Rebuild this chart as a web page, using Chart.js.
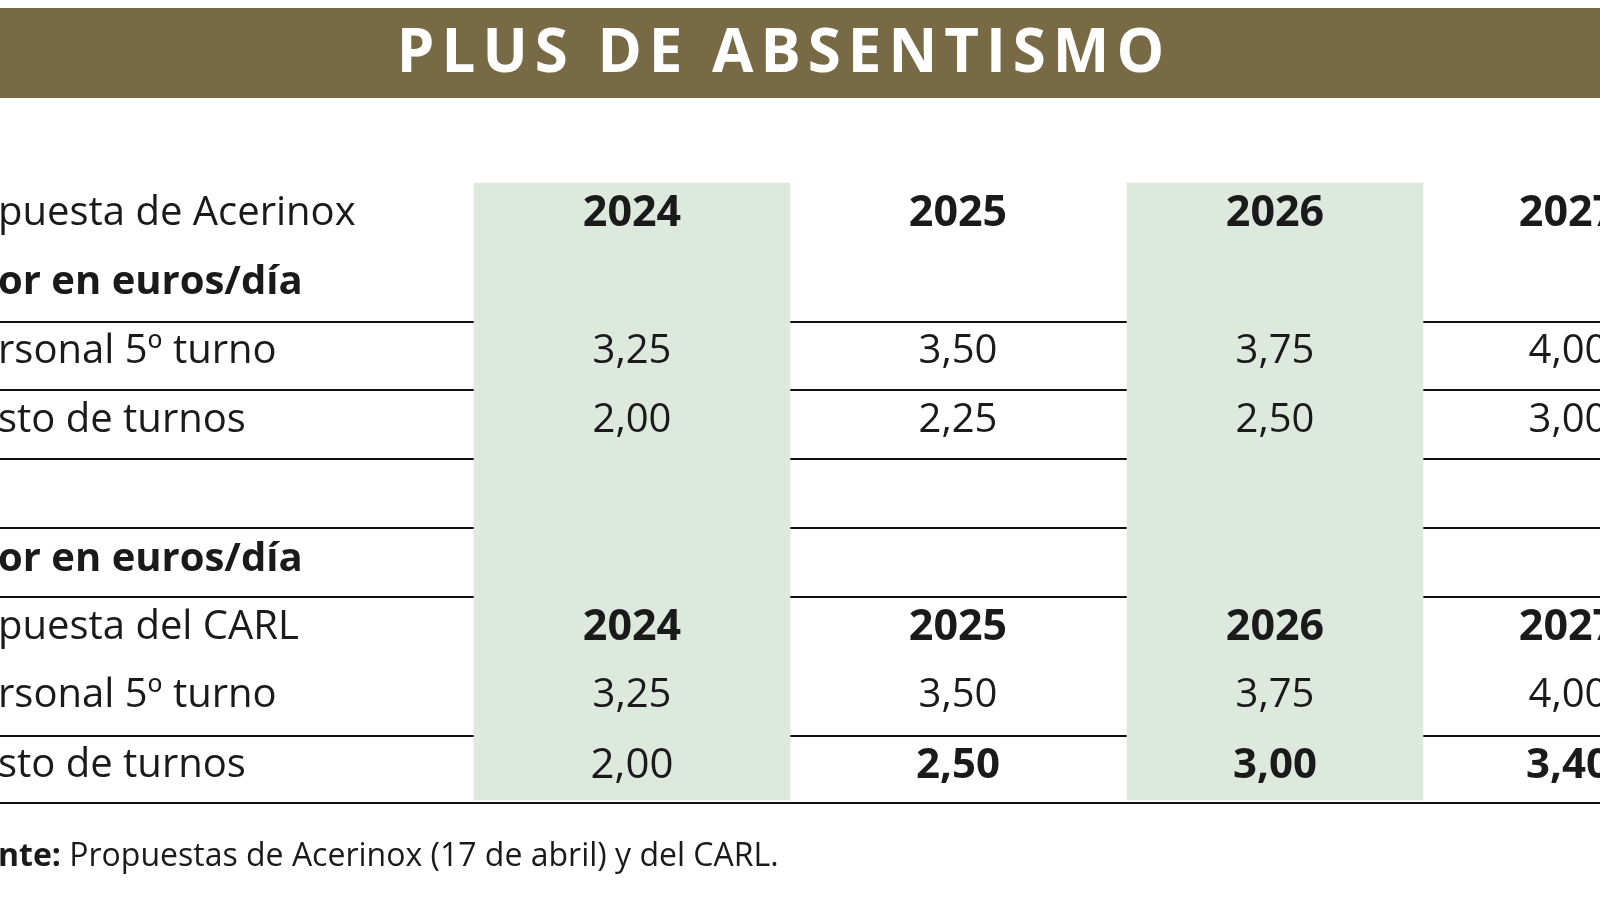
<!DOCTYPE html>
<html><head><meta charset="utf-8">
<script src="https://cdn.jsdelivr.net/npm/chart.js@4"></script>
<style>html,body{margin:0;background:#fff}#wrap{width:1600px;height:900px}</style>
</head><body><div id="wrap"><canvas id="c"></canvas></div>
<script>
// ===== DATA =====
const titulo = "PLUS DE ABSENTISMO";
const anos = ["2024", "2025", "2026", "2027"];
const acerinoxPersonal = ["3,25", "3,50", "3,75", "4,00"];
const acerinoxResto = ["2,00", "2,25", "2,50", "3,00"];
const carlPersonal = ["3,25", "3,50", "3,75", "4,00"];
const carlResto = ["2,00", "2,50", "3,00", "3,40"];
const carlRestoBold = [false, true, true, true];
const fuente = ["Fuente:", " Propuestas de Acerinox (17 de abril) y del CARL."];

// ===== LAYOUT (pixel space of the axes) =====
const colX = [632, 958, 1275, 1568];
const shaded = [0, 2];
const shadeW = [316, 0, 296];
const lineas = [322, 390, 459, 528, 597, 736, 803];

// [prefix hidden off-left, visible part, y, bold]
const etiquetas = [
    ["Pro", "puesta de Acerinox", 214, false],
    ["Val", "or en euros/día", 283, true],
    ["Pe", "rsonal 5º turno", 352, false],
    ["Re", "sto de turnos", 421, false],
    ["Val", "or en euros/día", 560, true],
    ["Pro", "puesta del CARL", 628, false],
    ["Pe", "rsonal 5º turno", 696, false],
    ["Re", "sto de turnos", 766, false]
];

const FONT = "'Open Sans', 'Liberation Sans', sans-serif";

const tablaPlugin = {
    id: "tabla",
    beforeDatasetsDraw(chart) {
        const { ctx, scales: { x, y } } = chart;
        ctx.save();
        ctx.fillStyle = "#776a45";
        ctx.fillRect(x.getPixelForValue(0), y.getPixelForValue(8), 1600, y.getPixelForValue(98) - y.getPixelForValue(8));
        ctx.restore();
    },
    afterDatasetsDraw(chart) {
        const { ctx, scales: { x, y } } = chart;
        ctx.save();
        ctx.textBaseline = "middle";

        // titulo
        ctx.fillStyle = "#fff";
        ctx.font = "bold 60px " + FONT;
        ctx.letterSpacing = "7px";
        ctx.textAlign = "center";
        ctx.fillText(titulo, x.getPixelForValue(784), y.getPixelForValue(55));
        ctx.letterSpacing = "0px";

        // etiquetas de fila
        ctx.fillStyle = "#1a1a1a";
        ctx.textAlign = "left";
        etiquetas.forEach(([pre, txt, yy, bold]) => {
            ctx.font = (bold ? "bold " : "") + "40px " + FONT;
            const w = ctx.measureText(pre).width;
            ctx.fillText(pre + txt, x.getPixelForValue(-2) - w, y.getPixelForValue(yy));
        });

        // valores
        ctx.textAlign = "center";
        const fila = (vals, yy, boldArr, size) => {
            vals.forEach((v, i) => {
                ctx.font = (boldArr && boldArr[i] ? "bold " : "") + (size || 40) + "px " + FONT;
                ctx.fillText(v, x.getPixelForValue(colX[i]), y.getPixelForValue(yy));
            });
        };
        fila(anos, 214, [true, true, true, true], 43);
        fila(acerinoxPersonal, 352);
        fila(acerinoxResto, 421);
        fila(anos, 628, [true, true, true, true], 43);
        fila(carlPersonal, 696);
        fila(carlResto, 766, carlRestoBold, 42);

        // fuente
        ctx.textAlign = "left";
        ctx.font = "bold 32px " + FONT;
        const wb = ctx.measureText("Fue").width;
        const x0 = x.getPixelForValue(-2) - wb;
        ctx.fillText(fuente[0], x0, y.getPixelForValue(857));
        const w0 = ctx.measureText(fuente[0]).width;
        ctx.font = "32px " + FONT;
        ctx.fillText(fuente[1], x0 + w0, y.getPixelForValue(857));
        ctx.restore();
    }
};

const datasets = [];
shaded.forEach(i => {
    datasets.push({
        type: "bar",
        data: [{ x: colX[i], y: [183, 800] }],
        backgroundColor: "#dde9dc",
        barThickness: shadeW[i],
        grouped: false,
        borderWidth: 0
    });
});
lineas.forEach(ly => {
    datasets.push({
        type: "line",
        data: [{ x: 0, y: ly }, { x: 1600, y: ly }],
        borderColor: "#111",
        borderWidth: 2,
        pointRadius: 0
    });
});

new Chart(document.getElementById("c"), {
    type: "bar",
    data: { datasets },
    options: {
        responsive: true,
        maintainAspectRatio: false,
        animation: false,
        layout: { padding: 0 },
        plugins: { legend: { display: false }, tooltip: { enabled: false } },
        scales: {
            x: { type: "linear", min: 0, max: 1600, offset: false, display: false },
            y: { type: "linear", min: 0, max: 900, reverse: true, display: false }
        }
    },
    plugins: [tablaPlugin]
});
</script>
</body></html>
